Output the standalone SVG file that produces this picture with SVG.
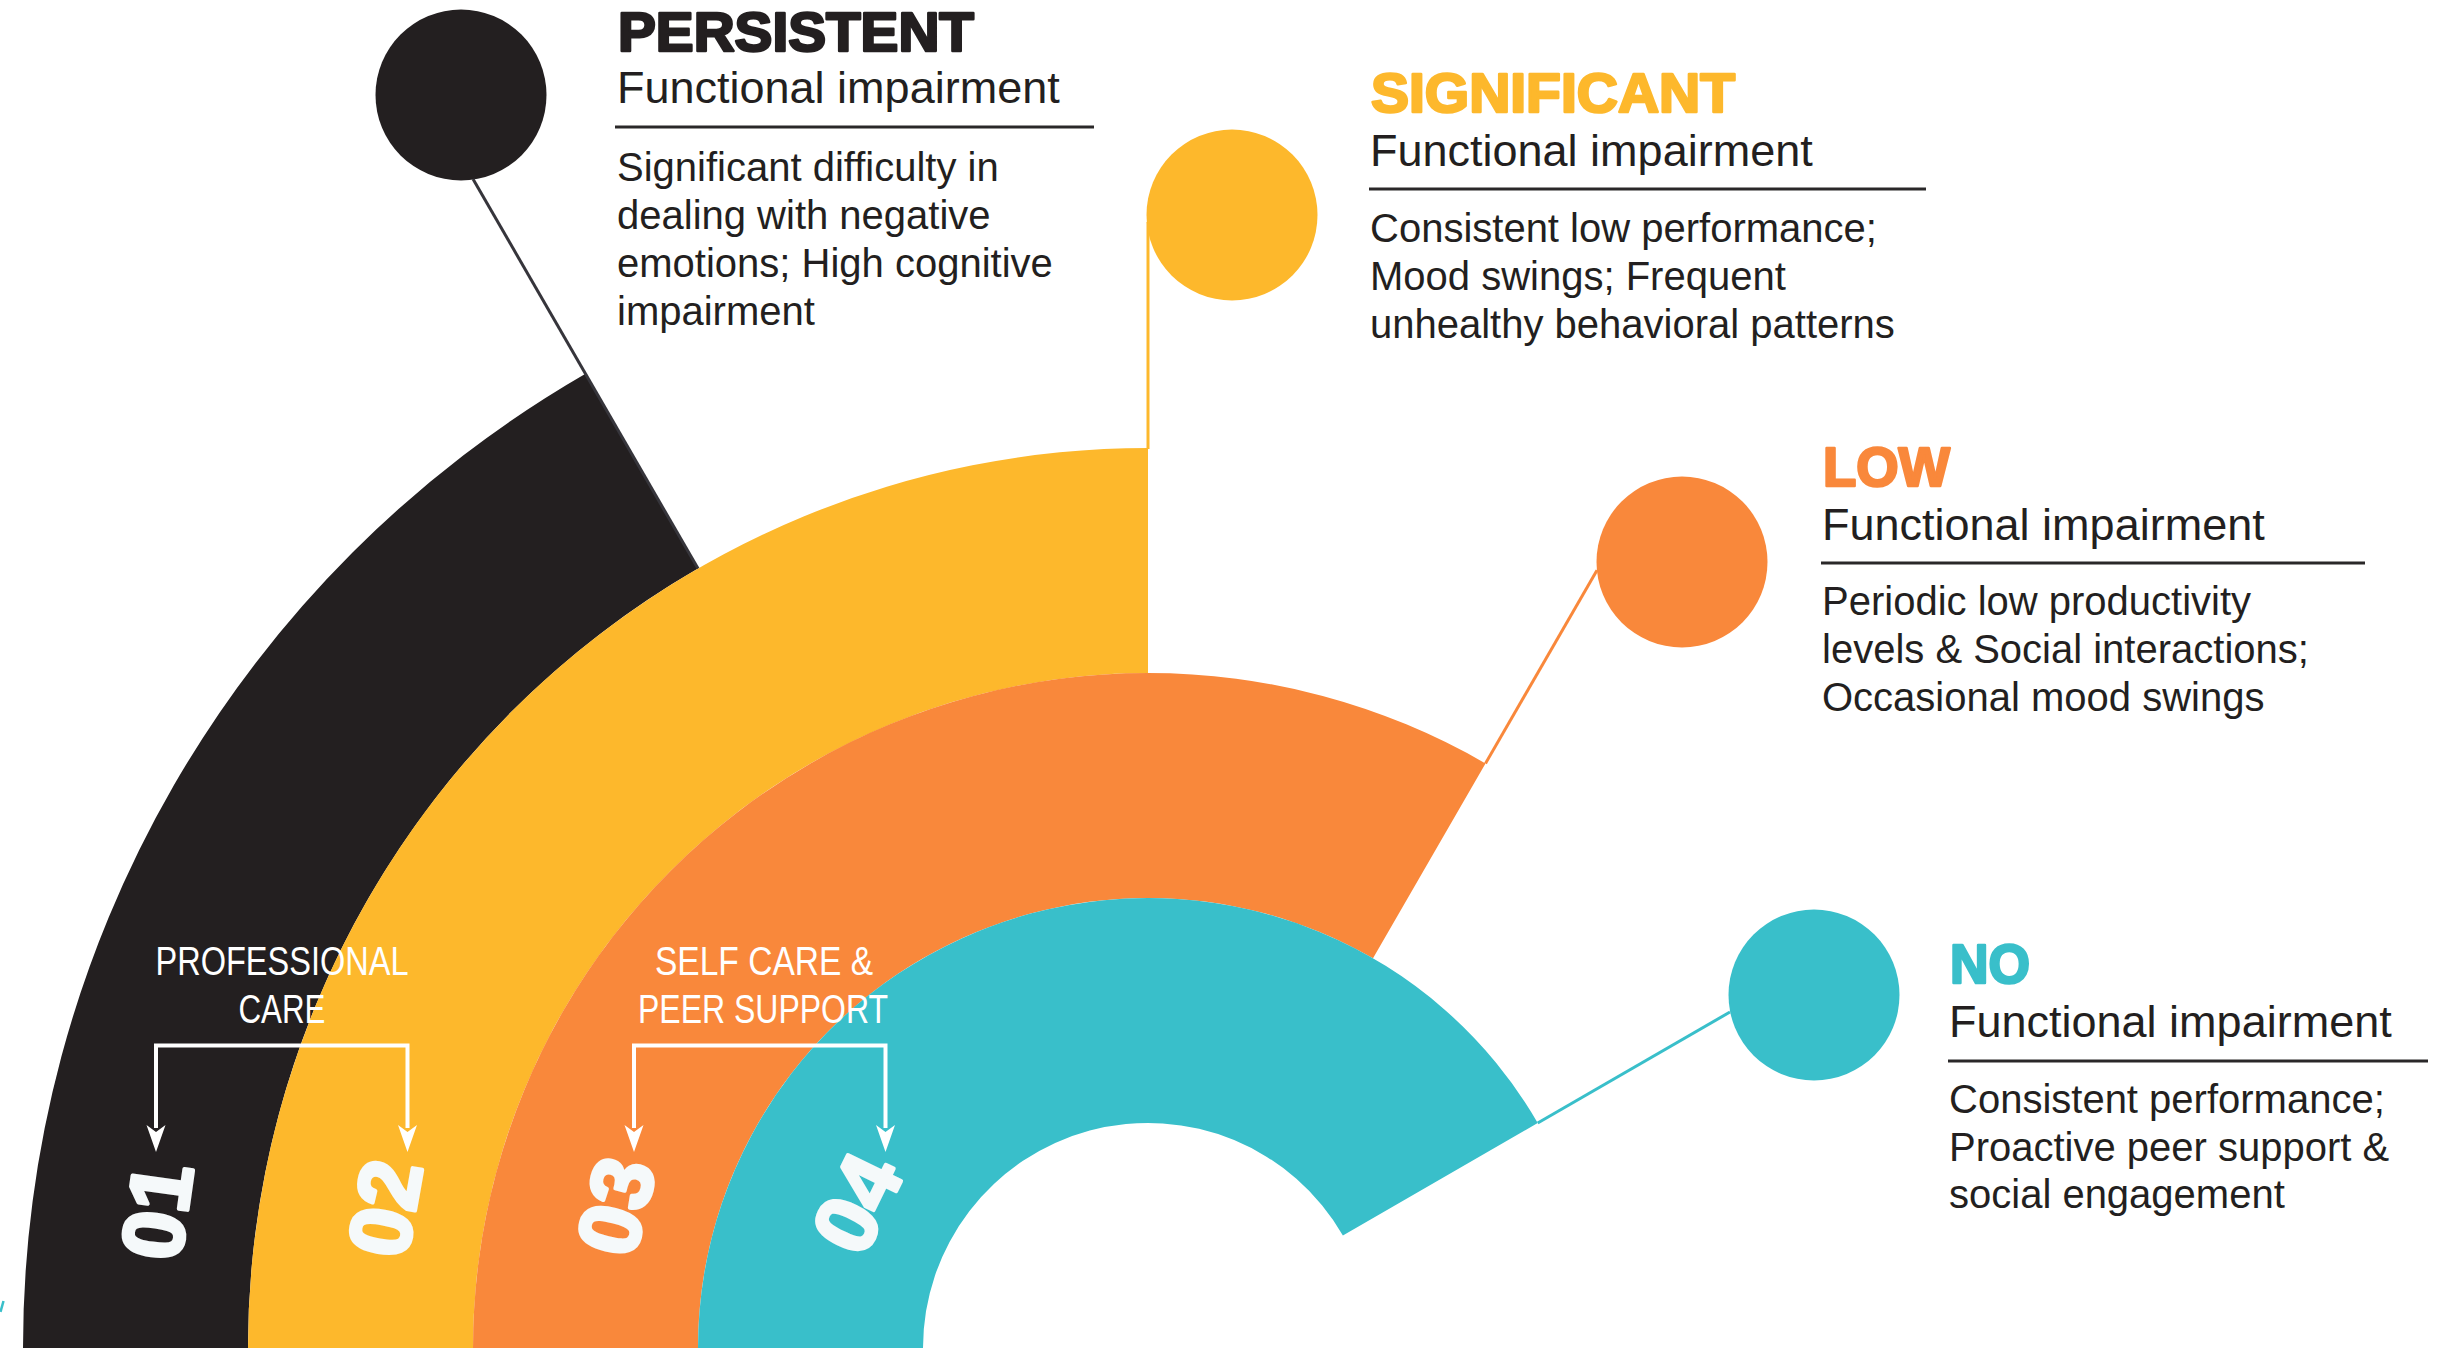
<svg xmlns="http://www.w3.org/2000/svg" width="2448" height="1350" viewBox="0 0 2448 1350">
<defs>
<style>
.t{font-family:"Liberation Sans",Arial,Helvetica,sans-serif;fill:#231f20}
.title{font-weight:bold;font-size:55px;stroke-width:2.6;stroke-linejoin:round}
.sub{font-size:45px}
.body{font-size:40px}
.rule{stroke:#2a2829;stroke-width:3}
.num{font-family:"Liberation Sans",Arial,Helvetica,sans-serif;font-weight:bold;font-size:86px;fill:#f5f9fa;stroke:#f5f9fa;stroke-width:4;stroke-linejoin:round;text-anchor:middle}
.lbl{font-family:"Liberation Sans",Arial,Helvetica,sans-serif;font-size:40px;fill:#ffffff;text-anchor:middle}
.br{fill:none;stroke:#ffffff;stroke-width:4}
.link{fill:none;stroke-width:3}
</style>
<path id="ah" d="M0,0 L-9.5,-27 L0,-20 L9.5,-27 Z" fill="#ffffff"/>
</defs>
<rect width="2448" height="1350" fill="#ffffff"/>

<g id="node-persistent">
<path d="M23,1348 A1125,1125 0 0 1 585.5,373.7 L698,568.6 A900,900 0 0 0 248,1348 Z" fill="#231f20"/>
<circle cx="461" cy="95" r="85.5" fill="#231f20"/>
<text class="t title" x="618" y="51" fill="#231f20" stroke="#231f20" textLength="356" lengthAdjust="spacingAndGlyphs">PERSISTENT</text>
<text class="t sub" x="617" y="103">Functional impairment</text>
<line class="rule" x1="615" y1="127" x2="1094" y2="127"/>
<text class="t body" x="617" y="181">Significant difficulty in</text>
<text class="t body" x="617" y="229">dealing with negative</text>
<text class="t body" x="617" y="277">emotions; High cognitive</text>
<text class="t body" x="617" y="325">impairment</text>
<text class="num" transform="translate(156,1211) rotate(-82)" x="0" y="31">01</text>
</g>

<g id="node-significant">
<path d="M248,1348 A900,900 0 0 1 1148,448 L1148,673 A675,675 0 0 0 473,1348 Z" fill="#fdb82c"/>
<circle cx="1232" cy="215" r="85.5" fill="#fdb82c"/>
<text class="t title" x="1371" y="112" style="fill:#fdb82c" stroke="#fdb82c" textLength="364" lengthAdjust="spacingAndGlyphs">SIGNIFICANT</text>
<text class="t sub" x="1370" y="166">Functional impairment</text>
<line class="rule" x1="1369" y1="189" x2="1926" y2="189"/>
<text class="t body" x="1370" y="242">Consistent low performance;</text>
<text class="t body" x="1370" y="290">Mood swings; Frequent</text>
<text class="t body" x="1370" y="338">unhealthy behavioral patterns</text>
<text class="num" transform="translate(384,1208) rotate(-80)" x="0" y="31">02</text>
</g>

<g id="node-low">
<path d="M473,1348 A675,675 0 0 1 1485.5,763.4 L1373,958.3 A450,450 0 0 0 698,1348 Z" fill="#f9883b"/>
<circle cx="1682" cy="562" r="85.5" fill="#f9883b"/>
<text class="t title" x="1823" y="486" style="fill:#f9883b" stroke="#f9883b" textLength="127" lengthAdjust="spacingAndGlyphs">LOW</text>
<text class="t sub" x="1822" y="540">Functional impairment</text>
<line class="rule" x1="1821" y1="563" x2="2365" y2="563"/>
<text class="t body" x="1822" y="615">Periodic low productivity</text>
<text class="t body" x="1822" y="663">levels &amp; Social interactions;</text>
<text class="t body" x="1822" y="711">Occasional mood swings</text>
<text class="num" transform="translate(615,1206) rotate(-76)" x="0" y="31">03</text>
</g>

<g id="node-no">
<path d="M698,1348 A450,450 0 0 1 1537.7,1123 L1342.9,1235.5 A225,225 0 0 0 923,1348 Z" fill="#39bfca"/>
<circle cx="1814" cy="995" r="85.5" fill="#39bfca"/>
<text class="t title" x="1950" y="983" style="fill:#39bfca" stroke="#39bfca" textLength="80" lengthAdjust="spacingAndGlyphs">NO</text>
<text class="t sub" x="1949" y="1037">Functional impairment</text>
<line class="rule" x1="1948" y1="1061" x2="2428" y2="1061"/>
<text class="t body" x="1949" y="1113">Consistent performance;</text>
<text class="t body" x="1949" y="1161">Proactive peer support &amp;</text>
<text class="t body" x="1949" y="1208">social engagement</text>
<text class="num" transform="translate(856,1203) rotate(-64)" x="0" y="31">04</text>
</g>

<g id="label-professional">
<text class="lbl" x="282" y="975" textLength="253" lengthAdjust="spacingAndGlyphs">PROFESSIONAL</text>
<text class="lbl" x="282" y="1023" textLength="87" lengthAdjust="spacingAndGlyphs">CARE</text>
</g>
<g id="label-selfcare">
<text class="lbl" x="764" y="975" textLength="218" lengthAdjust="spacingAndGlyphs">SELF CARE &amp;</text>
<text class="lbl" x="763" y="1023" textLength="250" lengthAdjust="spacingAndGlyphs">PEER SUPPORT</text>
</g>

<g id="connectors">
<line class="link" x1="698" y1="568.6" x2="473" y2="179" stroke="#36353b"/>
<line class="link" x1="1148" y1="449" x2="1148" y2="222" stroke="#fdb82c"/>
<line class="link" x1="1485.5" y1="763.4" x2="1597" y2="570.3" stroke="#f9883b"/>
<line class="link" x1="1537.7" y1="1123" x2="1730" y2="1012" stroke="#39bfca"/>
<path class="br" d="M156,1128 V1045.5 H407.5 V1128"/>
<use href="#ah" x="156" y="1152"/>
<use href="#ah" x="407.5" y="1152"/>
<path class="br" d="M634,1128 V1045.5 H885.5 V1128"/>
<use href="#ah" x="634" y="1152"/>
<use href="#ah" x="885.5" y="1152"/>
<line x1="3.5" y1="1301" x2="0.5" y2="1312" stroke="#39bfca" stroke-width="2.5"/>
</g>
</svg>
